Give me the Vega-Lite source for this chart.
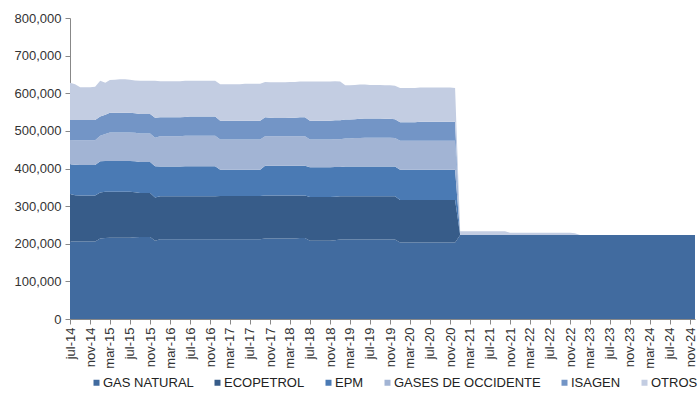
{
  "$schema": "https://vega.github.io/schema/vega-lite/v6.json",
  "width": 625,
  "height": 301,
  "autosize": {"type": "none"},
  "padding": {"left": 70, "top": 18, "right": 4, "bottom": 75},
  "background": "white",
  "config": {"view": {"stroke": null}, "font": "Liberation Sans"},
  "data": {"values": [
    {"mes":"2014-07-01","GAS NATURAL":206000,"ECOPETROL":126000,"EPM":79000,"GASES DE OCCIDENTE":65000,"ISAGEN":53000,"OTROS":99000},
    {"mes":"2014-08-01","GAS NATURAL":206000,"ECOPETROL":123000,"EPM":81000,"GASES DE OCCIDENTE":65000,"ISAGEN":54000,"OTROS":95000},
    {"mes":"2014-09-01","GAS NATURAL":206000,"ECOPETROL":122000,"EPM":81000,"GASES DE OCCIDENTE":66000,"ISAGEN":54000,"OTROS":87000},
    {"mes":"2014-10-01","GAS NATURAL":206000,"ECOPETROL":122000,"EPM":81000,"GASES DE OCCIDENTE":66000,"ISAGEN":54000,"OTROS":87000},
    {"mes":"2014-11-01","GAS NATURAL":206000,"ECOPETROL":122000,"EPM":81000,"GASES DE OCCIDENTE":66000,"ISAGEN":54000,"OTROS":87000},
    {"mes":"2014-12-01","GAS NATURAL":206000,"ECOPETROL":122000,"EPM":81000,"GASES DE OCCIDENTE":66000,"ISAGEN":54000,"OTROS":88000},
    {"mes":"2015-01-01","GAS NATURAL":214000,"ECOPETROL":122000,"EPM":83000,"GASES DE OCCIDENTE":68000,"ISAGEN":51000,"OTROS":95000},
    {"mes":"2015-02-01","GAS NATURAL":215000,"ECOPETROL":123000,"EPM":82000,"GASES DE OCCIDENTE":72000,"ISAGEN":51000,"OTROS":85000},
    {"mes":"2015-03-01","GAS NATURAL":216000,"ECOPETROL":122000,"EPM":82000,"GASES DE OCCIDENTE":76000,"ISAGEN":52000,"OTROS":87000},
    {"mes":"2015-04-01","GAS NATURAL":216000,"ECOPETROL":122000,"EPM":82000,"GASES DE OCCIDENTE":76000,"ISAGEN":52000,"OTROS":88000},
    {"mes":"2015-05-01","GAS NATURAL":216000,"ECOPETROL":122000,"EPM":82000,"GASES DE OCCIDENTE":76000,"ISAGEN":52000,"OTROS":89000},
    {"mes":"2015-06-01","GAS NATURAL":216000,"ECOPETROL":122000,"EPM":82000,"GASES DE OCCIDENTE":76000,"ISAGEN":52000,"OTROS":89000},
    {"mes":"2015-07-01","GAS NATURAL":216000,"ECOPETROL":122000,"EPM":82000,"GASES DE OCCIDENTE":76000,"ISAGEN":52000,"OTROS":88000},
    {"mes":"2015-08-01","GAS NATURAL":217000,"ECOPETROL":120000,"EPM":82000,"GASES DE OCCIDENTE":76000,"ISAGEN":52000,"OTROS":87000},
    {"mes":"2015-09-01","GAS NATURAL":218000,"ECOPETROL":117000,"EPM":82000,"GASES DE OCCIDENTE":76000,"ISAGEN":52000,"OTROS":88000},
    {"mes":"2015-10-01","GAS NATURAL":218000,"ECOPETROL":117000,"EPM":82000,"GASES DE OCCIDENTE":76000,"ISAGEN":52000,"OTROS":88000},
    {"mes":"2015-11-01","GAS NATURAL":218000,"ECOPETROL":117000,"EPM":82000,"GASES DE OCCIDENTE":76000,"ISAGEN":52000,"OTROS":88000},
    {"mes":"2015-12-01","GAS NATURAL":208000,"ECOPETROL":115000,"EPM":83000,"GASES DE OCCIDENTE":76000,"ISAGEN":53000,"OTROS":98000},
    {"mes":"2016-01-01","GAS NATURAL":212000,"ECOPETROL":114000,"EPM":79000,"GASES DE OCCIDENTE":81000,"ISAGEN":50000,"OTROS":96000},
    {"mes":"2016-02-01","GAS NATURAL":212000,"ECOPETROL":114000,"EPM":79000,"GASES DE OCCIDENTE":81000,"ISAGEN":50000,"OTROS":96000},
    {"mes":"2016-03-01","GAS NATURAL":212000,"ECOPETROL":114000,"EPM":79000,"GASES DE OCCIDENTE":81000,"ISAGEN":50000,"OTROS":96000},
    {"mes":"2016-04-01","GAS NATURAL":212000,"ECOPETROL":114000,"EPM":79000,"GASES DE OCCIDENTE":81000,"ISAGEN":50000,"OTROS":96000},
    {"mes":"2016-05-01","GAS NATURAL":212000,"ECOPETROL":114000,"EPM":79000,"GASES DE OCCIDENTE":81000,"ISAGEN":50000,"OTROS":96000},
    {"mes":"2016-06-01","GAS NATURAL":212000,"ECOPETROL":114000,"EPM":80000,"GASES DE OCCIDENTE":81000,"ISAGEN":50000,"OTROS":96000},
    {"mes":"2016-07-01","GAS NATURAL":212000,"ECOPETROL":114000,"EPM":80000,"GASES DE OCCIDENTE":81000,"ISAGEN":51000,"OTROS":95000},
    {"mes":"2016-08-01","GAS NATURAL":212000,"ECOPETROL":114000,"EPM":80000,"GASES DE OCCIDENTE":81000,"ISAGEN":51000,"OTROS":95000},
    {"mes":"2016-09-01","GAS NATURAL":212000,"ECOPETROL":114000,"EPM":80000,"GASES DE OCCIDENTE":81000,"ISAGEN":51000,"OTROS":95000},
    {"mes":"2016-10-01","GAS NATURAL":212000,"ECOPETROL":114000,"EPM":80000,"GASES DE OCCIDENTE":81000,"ISAGEN":51000,"OTROS":95000},
    {"mes":"2016-11-01","GAS NATURAL":212000,"ECOPETROL":114000,"EPM":80000,"GASES DE OCCIDENTE":81000,"ISAGEN":51000,"OTROS":95000},
    {"mes":"2016-12-01","GAS NATURAL":212000,"ECOPETROL":114000,"EPM":80000,"GASES DE OCCIDENTE":81000,"ISAGEN":51000,"OTROS":95000},
    {"mes":"2017-01-01","GAS NATURAL":212000,"ECOPETROL":115000,"EPM":70000,"GASES DE OCCIDENTE":80000,"ISAGEN":50000,"OTROS":97000},
    {"mes":"2017-02-01","GAS NATURAL":212000,"ECOPETROL":115000,"EPM":70000,"GASES DE OCCIDENTE":80000,"ISAGEN":50000,"OTROS":97000},
    {"mes":"2017-03-01","GAS NATURAL":212000,"ECOPETROL":115000,"EPM":70000,"GASES DE OCCIDENTE":80000,"ISAGEN":50000,"OTROS":97000},
    {"mes":"2017-04-01","GAS NATURAL":212000,"ECOPETROL":115000,"EPM":70000,"GASES DE OCCIDENTE":80000,"ISAGEN":50000,"OTROS":97000},
    {"mes":"2017-05-01","GAS NATURAL":212000,"ECOPETROL":115000,"EPM":70000,"GASES DE OCCIDENTE":80000,"ISAGEN":50000,"OTROS":97000},
    {"mes":"2017-06-01","GAS NATURAL":212000,"ECOPETROL":115000,"EPM":70000,"GASES DE OCCIDENTE":80000,"ISAGEN":50000,"OTROS":98000},
    {"mes":"2017-07-01","GAS NATURAL":212000,"ECOPETROL":115000,"EPM":70000,"GASES DE OCCIDENTE":80000,"ISAGEN":50000,"OTROS":98000},
    {"mes":"2017-08-01","GAS NATURAL":212000,"ECOPETROL":115000,"EPM":70000,"GASES DE OCCIDENTE":80000,"ISAGEN":50000,"OTROS":98000},
    {"mes":"2017-09-01","GAS NATURAL":212000,"ECOPETROL":115000,"EPM":70000,"GASES DE OCCIDENTE":80000,"ISAGEN":50000,"OTROS":98000},
    {"mes":"2017-10-01","GAS NATURAL":214000,"ECOPETROL":114000,"EPM":79000,"GASES DE OCCIDENTE":79000,"ISAGEN":50000,"OTROS":94000},
    {"mes":"2017-11-01","GAS NATURAL":214000,"ECOPETROL":114000,"EPM":79000,"GASES DE OCCIDENTE":79000,"ISAGEN":49000,"OTROS":94000},
    {"mes":"2017-12-01","GAS NATURAL":214000,"ECOPETROL":114000,"EPM":79000,"GASES DE OCCIDENTE":79000,"ISAGEN":48000,"OTROS":95000},
    {"mes":"2018-01-01","GAS NATURAL":214000,"ECOPETROL":114000,"EPM":79000,"GASES DE OCCIDENTE":79000,"ISAGEN":48000,"OTROS":95000},
    {"mes":"2018-02-01","GAS NATURAL":214000,"ECOPETROL":114000,"EPM":79000,"GASES DE OCCIDENTE":79000,"ISAGEN":48000,"OTROS":95000},
    {"mes":"2018-03-01","GAS NATURAL":214000,"ECOPETROL":114000,"EPM":79000,"GASES DE OCCIDENTE":79000,"ISAGEN":49000,"OTROS":95000},
    {"mes":"2018-04-01","GAS NATURAL":214000,"ECOPETROL":114000,"EPM":79000,"GASES DE OCCIDENTE":79000,"ISAGEN":49000,"OTROS":95000},
    {"mes":"2018-05-01","GAS NATURAL":215000,"ECOPETROL":113000,"EPM":79000,"GASES DE OCCIDENTE":79000,"ISAGEN":50000,"OTROS":95000},
    {"mes":"2018-06-01","GAS NATURAL":215000,"ECOPETROL":113000,"EPM":79000,"GASES DE OCCIDENTE":79000,"ISAGEN":50000,"OTROS":95000},
    {"mes":"2018-07-01","GAS NATURAL":208000,"ECOPETROL":116000,"EPM":79000,"GASES DE OCCIDENTE":74000,"ISAGEN":50000,"OTROS":104000},
    {"mes":"2018-08-01","GAS NATURAL":208000,"ECOPETROL":116000,"EPM":79000,"GASES DE OCCIDENTE":74000,"ISAGEN":50000,"OTROS":104000},
    {"mes":"2018-09-01","GAS NATURAL":208000,"ECOPETROL":116000,"EPM":79000,"GASES DE OCCIDENTE":74000,"ISAGEN":50000,"OTROS":104000},
    {"mes":"2018-10-01","GAS NATURAL":208000,"ECOPETROL":116000,"EPM":79000,"GASES DE OCCIDENTE":74000,"ISAGEN":50000,"OTROS":104000},
    {"mes":"2018-11-01","GAS NATURAL":208000,"ECOPETROL":116000,"EPM":79000,"GASES DE OCCIDENTE":74000,"ISAGEN":50000,"OTROS":104000},
    {"mes":"2018-12-01","GAS NATURAL":209000,"ECOPETROL":116000,"EPM":79000,"GASES DE OCCIDENTE":74000,"ISAGEN":50000,"OTROS":104000},
    {"mes":"2019-01-01","GAS NATURAL":211000,"ECOPETROL":115000,"EPM":78000,"GASES DE OCCIDENTE":74000,"ISAGEN":50000,"OTROS":103000},
    {"mes":"2019-02-01","GAS NATURAL":211000,"ECOPETROL":115000,"EPM":79000,"GASES DE OCCIDENTE":75000,"ISAGEN":50000,"OTROS":91000},
    {"mes":"2019-03-01","GAS NATURAL":211000,"ECOPETROL":115000,"EPM":79000,"GASES DE OCCIDENTE":75000,"ISAGEN":50000,"OTROS":91000},
    {"mes":"2019-04-01","GAS NATURAL":211000,"ECOPETROL":115000,"EPM":79000,"GASES DE OCCIDENTE":76000,"ISAGEN":50000,"OTROS":91000},
    {"mes":"2019-05-01","GAS NATURAL":211000,"ECOPETROL":115000,"EPM":79000,"GASES DE OCCIDENTE":76000,"ISAGEN":51000,"OTROS":91000},
    {"mes":"2019-06-01","GAS NATURAL":211000,"ECOPETROL":115000,"EPM":79000,"GASES DE OCCIDENTE":77000,"ISAGEN":51000,"OTROS":90000},
    {"mes":"2019-07-01","GAS NATURAL":211000,"ECOPETROL":115000,"EPM":79000,"GASES DE OCCIDENTE":77000,"ISAGEN":51000,"OTROS":89000},
    {"mes":"2019-08-01","GAS NATURAL":211000,"ECOPETROL":115000,"EPM":79000,"GASES DE OCCIDENTE":77000,"ISAGEN":51000,"OTROS":89000},
    {"mes":"2019-09-01","GAS NATURAL":211000,"ECOPETROL":115000,"EPM":79000,"GASES DE OCCIDENTE":77000,"ISAGEN":51000,"OTROS":89000},
    {"mes":"2019-10-01","GAS NATURAL":211000,"ECOPETROL":115000,"EPM":79000,"GASES DE OCCIDENTE":77000,"ISAGEN":50000,"OTROS":89000},
    {"mes":"2019-11-01","GAS NATURAL":211000,"ECOPETROL":115000,"EPM":79000,"GASES DE OCCIDENTE":77000,"ISAGEN":50000,"OTROS":89000},
    {"mes":"2019-12-01","GAS NATURAL":211000,"ECOPETROL":115000,"EPM":79000,"GASES DE OCCIDENTE":76000,"ISAGEN":50000,"OTROS":89000},
    {"mes":"2020-01-01","GAS NATURAL":203000,"ECOPETROL":113000,"EPM":81000,"GASES DE OCCIDENTE":77000,"ISAGEN":49000,"OTROS":91000},
    {"mes":"2020-02-01","GAS NATURAL":203000,"ECOPETROL":113000,"EPM":81000,"GASES DE OCCIDENTE":77000,"ISAGEN":49000,"OTROS":91000},
    {"mes":"2020-03-01","GAS NATURAL":203000,"ECOPETROL":113000,"EPM":81000,"GASES DE OCCIDENTE":77000,"ISAGEN":49000,"OTROS":91000},
    {"mes":"2020-04-01","GAS NATURAL":203000,"ECOPETROL":113000,"EPM":81000,"GASES DE OCCIDENTE":77000,"ISAGEN":49000,"OTROS":91000},
    {"mes":"2020-05-01","GAS NATURAL":203000,"ECOPETROL":113000,"EPM":81000,"GASES DE OCCIDENTE":77000,"ISAGEN":50000,"OTROS":91000},
    {"mes":"2020-06-01","GAS NATURAL":203000,"ECOPETROL":113000,"EPM":81000,"GASES DE OCCIDENTE":77000,"ISAGEN":50000,"OTROS":91000},
    {"mes":"2020-07-01","GAS NATURAL":203000,"ECOPETROL":113000,"EPM":81000,"GASES DE OCCIDENTE":77000,"ISAGEN":50000,"OTROS":91000},
    {"mes":"2020-08-01","GAS NATURAL":203000,"ECOPETROL":113000,"EPM":81000,"GASES DE OCCIDENTE":77000,"ISAGEN":50000,"OTROS":91000},
    {"mes":"2020-09-01","GAS NATURAL":203000,"ECOPETROL":113000,"EPM":81000,"GASES DE OCCIDENTE":77000,"ISAGEN":50000,"OTROS":91000},
    {"mes":"2020-10-01","GAS NATURAL":203000,"ECOPETROL":113000,"EPM":81000,"GASES DE OCCIDENTE":77000,"ISAGEN":50000,"OTROS":91000},
    {"mes":"2020-11-01","GAS NATURAL":203000,"ECOPETROL":113000,"EPM":81000,"GASES DE OCCIDENTE":77000,"ISAGEN":50000,"OTROS":91000},
    {"mes":"2020-12-01","GAS NATURAL":203000,"ECOPETROL":113000,"EPM":81000,"GASES DE OCCIDENTE":77000,"ISAGEN":50000,"OTROS":90000},
    {"mes":"2021-01-01","GAS NATURAL":223000,"ECOPETROL":0,"EPM":0,"GASES DE OCCIDENTE":0,"ISAGEN":0,"OTROS":10000},
    {"mes":"2021-02-01","GAS NATURAL":223000,"ECOPETROL":0,"EPM":0,"GASES DE OCCIDENTE":0,"ISAGEN":0,"OTROS":10000},
    {"mes":"2021-03-01","GAS NATURAL":223000,"ECOPETROL":0,"EPM":0,"GASES DE OCCIDENTE":0,"ISAGEN":0,"OTROS":10000},
    {"mes":"2021-04-01","GAS NATURAL":223000,"ECOPETROL":0,"EPM":0,"GASES DE OCCIDENTE":0,"ISAGEN":0,"OTROS":10000},
    {"mes":"2021-05-01","GAS NATURAL":223000,"ECOPETROL":0,"EPM":0,"GASES DE OCCIDENTE":0,"ISAGEN":0,"OTROS":10000},
    {"mes":"2021-06-01","GAS NATURAL":223000,"ECOPETROL":0,"EPM":0,"GASES DE OCCIDENTE":0,"ISAGEN":0,"OTROS":10000},
    {"mes":"2021-07-01","GAS NATURAL":223000,"ECOPETROL":0,"EPM":0,"GASES DE OCCIDENTE":0,"ISAGEN":0,"OTROS":10000},
    {"mes":"2021-08-01","GAS NATURAL":223000,"ECOPETROL":0,"EPM":0,"GASES DE OCCIDENTE":0,"ISAGEN":0,"OTROS":10000},
    {"mes":"2021-09-01","GAS NATURAL":223000,"ECOPETROL":0,"EPM":0,"GASES DE OCCIDENTE":0,"ISAGEN":0,"OTROS":10000},
    {"mes":"2021-10-01","GAS NATURAL":223000,"ECOPETROL":0,"EPM":0,"GASES DE OCCIDENTE":0,"ISAGEN":0,"OTROS":10000},
    {"mes":"2021-11-01","GAS NATURAL":223000,"ECOPETROL":0,"EPM":0,"GASES DE OCCIDENTE":0,"ISAGEN":0,"OTROS":6000},
    {"mes":"2021-12-01","GAS NATURAL":223000,"ECOPETROL":0,"EPM":0,"GASES DE OCCIDENTE":0,"ISAGEN":0,"OTROS":6000},
    {"mes":"2022-01-01","GAS NATURAL":223000,"ECOPETROL":0,"EPM":0,"GASES DE OCCIDENTE":0,"ISAGEN":0,"OTROS":6000},
    {"mes":"2022-02-01","GAS NATURAL":223000,"ECOPETROL":0,"EPM":0,"GASES DE OCCIDENTE":0,"ISAGEN":0,"OTROS":6000},
    {"mes":"2022-03-01","GAS NATURAL":223000,"ECOPETROL":0,"EPM":0,"GASES DE OCCIDENTE":0,"ISAGEN":0,"OTROS":6000},
    {"mes":"2022-04-01","GAS NATURAL":223000,"ECOPETROL":0,"EPM":0,"GASES DE OCCIDENTE":0,"ISAGEN":0,"OTROS":6000},
    {"mes":"2022-05-01","GAS NATURAL":223000,"ECOPETROL":0,"EPM":0,"GASES DE OCCIDENTE":0,"ISAGEN":0,"OTROS":6000},
    {"mes":"2022-06-01","GAS NATURAL":223000,"ECOPETROL":0,"EPM":0,"GASES DE OCCIDENTE":0,"ISAGEN":0,"OTROS":6000},
    {"mes":"2022-07-01","GAS NATURAL":223000,"ECOPETROL":0,"EPM":0,"GASES DE OCCIDENTE":0,"ISAGEN":0,"OTROS":6000},
    {"mes":"2022-08-01","GAS NATURAL":223000,"ECOPETROL":0,"EPM":0,"GASES DE OCCIDENTE":0,"ISAGEN":0,"OTROS":6000},
    {"mes":"2022-09-01","GAS NATURAL":223000,"ECOPETROL":0,"EPM":0,"GASES DE OCCIDENTE":0,"ISAGEN":0,"OTROS":6000},
    {"mes":"2022-10-01","GAS NATURAL":223000,"ECOPETROL":0,"EPM":0,"GASES DE OCCIDENTE":0,"ISAGEN":0,"OTROS":6000},
    {"mes":"2022-11-01","GAS NATURAL":223000,"ECOPETROL":0,"EPM":0,"GASES DE OCCIDENTE":0,"ISAGEN":0,"OTROS":6000},
    {"mes":"2022-12-01","GAS NATURAL":223000,"ECOPETROL":0,"EPM":0,"GASES DE OCCIDENTE":0,"ISAGEN":0,"OTROS":5000},
    {"mes":"2023-01-01","GAS NATURAL":223000,"ECOPETROL":0,"EPM":0,"GASES DE OCCIDENTE":0,"ISAGEN":0,"OTROS":0},
    {"mes":"2023-02-01","GAS NATURAL":223000,"ECOPETROL":0,"EPM":0,"GASES DE OCCIDENTE":0,"ISAGEN":0,"OTROS":0},
    {"mes":"2023-03-01","GAS NATURAL":223000,"ECOPETROL":0,"EPM":0,"GASES DE OCCIDENTE":0,"ISAGEN":0,"OTROS":0},
    {"mes":"2023-04-01","GAS NATURAL":223000,"ECOPETROL":0,"EPM":0,"GASES DE OCCIDENTE":0,"ISAGEN":0,"OTROS":0},
    {"mes":"2023-05-01","GAS NATURAL":223000,"ECOPETROL":0,"EPM":0,"GASES DE OCCIDENTE":0,"ISAGEN":0,"OTROS":0},
    {"mes":"2023-06-01","GAS NATURAL":223000,"ECOPETROL":0,"EPM":0,"GASES DE OCCIDENTE":0,"ISAGEN":0,"OTROS":0},
    {"mes":"2023-07-01","GAS NATURAL":223000,"ECOPETROL":0,"EPM":0,"GASES DE OCCIDENTE":0,"ISAGEN":0,"OTROS":0},
    {"mes":"2023-08-01","GAS NATURAL":223000,"ECOPETROL":0,"EPM":0,"GASES DE OCCIDENTE":0,"ISAGEN":0,"OTROS":0},
    {"mes":"2023-09-01","GAS NATURAL":223000,"ECOPETROL":0,"EPM":0,"GASES DE OCCIDENTE":0,"ISAGEN":0,"OTROS":0},
    {"mes":"2023-10-01","GAS NATURAL":223000,"ECOPETROL":0,"EPM":0,"GASES DE OCCIDENTE":0,"ISAGEN":0,"OTROS":0},
    {"mes":"2023-11-01","GAS NATURAL":223000,"ECOPETROL":0,"EPM":0,"GASES DE OCCIDENTE":0,"ISAGEN":0,"OTROS":0},
    {"mes":"2023-12-01","GAS NATURAL":223000,"ECOPETROL":0,"EPM":0,"GASES DE OCCIDENTE":0,"ISAGEN":0,"OTROS":0},
    {"mes":"2024-01-01","GAS NATURAL":223000,"ECOPETROL":0,"EPM":0,"GASES DE OCCIDENTE":0,"ISAGEN":0,"OTROS":0},
    {"mes":"2024-02-01","GAS NATURAL":223000,"ECOPETROL":0,"EPM":0,"GASES DE OCCIDENTE":0,"ISAGEN":0,"OTROS":0},
    {"mes":"2024-03-01","GAS NATURAL":223000,"ECOPETROL":0,"EPM":0,"GASES DE OCCIDENTE":0,"ISAGEN":0,"OTROS":0},
    {"mes":"2024-04-01","GAS NATURAL":223000,"ECOPETROL":0,"EPM":0,"GASES DE OCCIDENTE":0,"ISAGEN":0,"OTROS":0},
    {"mes":"2024-05-01","GAS NATURAL":223000,"ECOPETROL":0,"EPM":0,"GASES DE OCCIDENTE":0,"ISAGEN":0,"OTROS":0},
    {"mes":"2024-06-01","GAS NATURAL":223000,"ECOPETROL":0,"EPM":0,"GASES DE OCCIDENTE":0,"ISAGEN":0,"OTROS":0},
    {"mes":"2024-07-01","GAS NATURAL":223000,"ECOPETROL":0,"EPM":0,"GASES DE OCCIDENTE":0,"ISAGEN":0,"OTROS":0},
    {"mes":"2024-08-01","GAS NATURAL":223000,"ECOPETROL":0,"EPM":0,"GASES DE OCCIDENTE":0,"ISAGEN":0,"OTROS":0},
    {"mes":"2024-09-01","GAS NATURAL":223000,"ECOPETROL":0,"EPM":0,"GASES DE OCCIDENTE":0,"ISAGEN":0,"OTROS":0},
    {"mes":"2024-10-01","GAS NATURAL":223000,"ECOPETROL":0,"EPM":0,"GASES DE OCCIDENTE":0,"ISAGEN":0,"OTROS":0},
    {"mes":"2024-11-01","GAS NATURAL":223000,"ECOPETROL":0,"EPM":0,"GASES DE OCCIDENTE":0,"ISAGEN":0,"OTROS":0},
    {"mes":"2024-12-01","GAS NATURAL":223000,"ECOPETROL":0,"EPM":0,"GASES DE OCCIDENTE":0,"ISAGEN":0,"OTROS":0}
  ]},
  "transform": [
    {"fold": ["GAS NATURAL","ECOPETROL","EPM","GASES DE OCCIDENTE","ISAGEN","OTROS"], "as": ["serie","valor"]},
    {"lookup": "serie", "from": {"data": {"values": [
      {"serie":"GAS NATURAL","orden":1},{"serie":"ECOPETROL","orden":2},{"serie":"EPM","orden":3},
      {"serie":"GASES DE OCCIDENTE","orden":4},{"serie":"ISAGEN","orden":5},{"serie":"OTROS","orden":6}
    ]}, "key": "serie", "fields": ["orden"]}}
  ],
  "mark": {"type": "area", "interpolate": "linear", "opacity": 1},
  "encoding": {
    "x": {
      "field": "mes", "type": "temporal",
      "scale": {"type": "utc", "nice": false, "domain": [{"year":2014,"month":7,"date":1,"utc":true},{"year":2024,"month":12,"date":1,"utc":true}]},
      "axis": {
        "title": null, "grid": false, "labelAngle": 270, "labelFontSize": 13, "labelColor": "#333333",
        "domainColor": "#888888", "tickColor": "#888888", "tickSize": 5, "labelPadding": 3, "labelOverlap": false,
        "labelExpr": "lower(utcFormat(datum.value, '%b-%y'))",
        "values": [
          {"year":2014,"month":7,"date":1,"utc":true},{"year":2014,"month":11,"date":1,"utc":true},
          {"year":2015,"month":3,"date":1,"utc":true},{"year":2015,"month":7,"date":1,"utc":true},{"year":2015,"month":11,"date":1,"utc":true},
          {"year":2016,"month":3,"date":1,"utc":true},{"year":2016,"month":7,"date":1,"utc":true},{"year":2016,"month":11,"date":1,"utc":true},
          {"year":2017,"month":3,"date":1,"utc":true},{"year":2017,"month":7,"date":1,"utc":true},{"year":2017,"month":11,"date":1,"utc":true},
          {"year":2018,"month":3,"date":1,"utc":true},{"year":2018,"month":7,"date":1,"utc":true},{"year":2018,"month":11,"date":1,"utc":true},
          {"year":2019,"month":3,"date":1,"utc":true},{"year":2019,"month":7,"date":1,"utc":true},{"year":2019,"month":11,"date":1,"utc":true},
          {"year":2020,"month":3,"date":1,"utc":true},{"year":2020,"month":7,"date":1,"utc":true},{"year":2020,"month":11,"date":1,"utc":true},
          {"year":2021,"month":3,"date":1,"utc":true},{"year":2021,"month":7,"date":1,"utc":true},{"year":2021,"month":11,"date":1,"utc":true},
          {"year":2022,"month":3,"date":1,"utc":true},{"year":2022,"month":7,"date":1,"utc":true},{"year":2022,"month":11,"date":1,"utc":true},
          {"year":2023,"month":3,"date":1,"utc":true},{"year":2023,"month":7,"date":1,"utc":true},{"year":2023,"month":11,"date":1,"utc":true},
          {"year":2024,"month":3,"date":1,"utc":true},{"year":2024,"month":7,"date":1,"utc":true},{"year":2024,"month":11,"date":1,"utc":true}
        ]
      }
    },
    "y": {
      "field": "valor", "type": "quantitative", "stack": "zero",
      "scale": {"domain": [0, 800000], "nice": false},
      "axis": {
        "title": null, "grid": false, "format": ",.0f", "values": [0,100000,200000,300000,400000,500000,600000,700000,800000],
        "labelFontSize": 13, "labelColor": "#333333", "domainColor": "#888888", "tickColor": "#888888", "tickSize": 5, "labelPadding": 4
      }
    },
    "order": {"field": "orden", "type": "quantitative", "sort": "ascending"},
    "color": {
      "field": "serie", "type": "nominal",
      "scale": {
        "domain": ["GAS NATURAL","ECOPETROL","EPM","GASES DE OCCIDENTE","ISAGEN","OTROS"],
        "range": ["#416B9F","#375C89","#4A7AB4","#A2B4D4","#7395C6","#C3CDE2"]
      },
      "legend": {
        "title": null, "orient": "none", "legendX": 20, "legendY": 358, "direction": "horizontal",
        "symbolType": "square", "symbolSize": 36, "symbolStrokeWidth": 0, "labelFontSize": 13, "labelColor": "#222222",
        "columnPadding": 17, "labelOffset": 0, "labelLimit": 200
      }
    }
  }
}
